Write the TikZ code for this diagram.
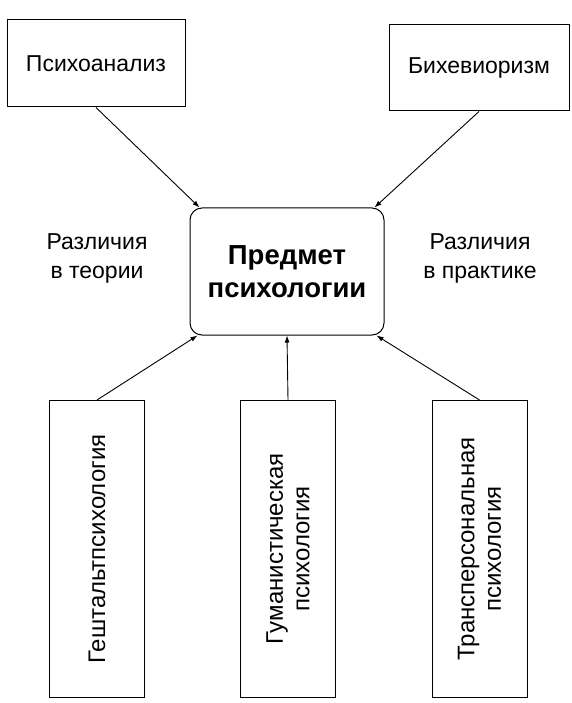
\documentclass[tikz,border=0pt]{standalone}
\usepackage{fontspec}
\setmainfont{Liberation Sans}
\usetikzlibrary{arrows.meta}
\begin{document}
\begin{tikzpicture}[x=1pt,y=-1pt,
  box/.style={draw,line width=1pt,inner sep=0pt,font=\fontsize{23}{27}\selectfont,align=center},
  vbox/.style={box,minimum width=95pt,minimum height=297pt},
  vtxt/.style={rotate=90,font=\fontsize{24}{26.5}\selectfont,align=center},
  lbl/.style={font=\fontsize{23}{29}\selectfont,align=center},
  arr/.style={line width=0.9pt,-{Latex[length=7pt,width=5pt]}}]
\useasboundingbox (0,0) rectangle (571,703);
\node[box,minimum width=178pt,minimum height=87pt] (psy) at (96,63.5) {Психоанализ};
\node[box,minimum width=180pt,minimum height=86pt] (beh) at (479,68) {Бихевиоризм};
\node[draw,line width=1pt,rounded corners=12pt,minimum width=194pt,minimum height=127pt,
  font=\bfseries\fontsize{27.5}{33}\selectfont,align=center] (sub) at (287,271.5) {Предмет\\психологии};
\node[lbl] (lt) at (97,258) {Различия\\в теории};
\node[lbl] (rt) at (480,258) {Различия\\в практике};
\node[vbox] (g1) at (97,549) {};
\node[vbox] (g2) at (288,549) {};
\node[vbox] (g3) at (479.5,549) {};
\node[vtxt] (t1) at (g1.center) {Гештальтпсихология};
\node[vtxt] (t2) at (g2.center) {Гуманистическая\\психология};
\node[vtxt] (t3) at (g3.center) {Трансперсональная\\психология};
\coordinate (s1) at ([xshift=10pt]sub.north west);
\coordinate (s2) at ([xshift=-10pt]sub.north east);
\coordinate (s3) at ([xshift=8pt]sub.south west);
\coordinate (s4) at (sub.south);
\coordinate (s5) at ([xshift=-8pt]sub.south east);
\draw[arr] (psy.south) -- (s1);
\draw[arr] (beh.south) -- (s2);
\draw[arr] (g1.north) -- (s3);
\draw[arr] (g2.north) -- (s4);
\draw[arr] (g3.north) -- (s5);
\end{tikzpicture}
\end{document}
